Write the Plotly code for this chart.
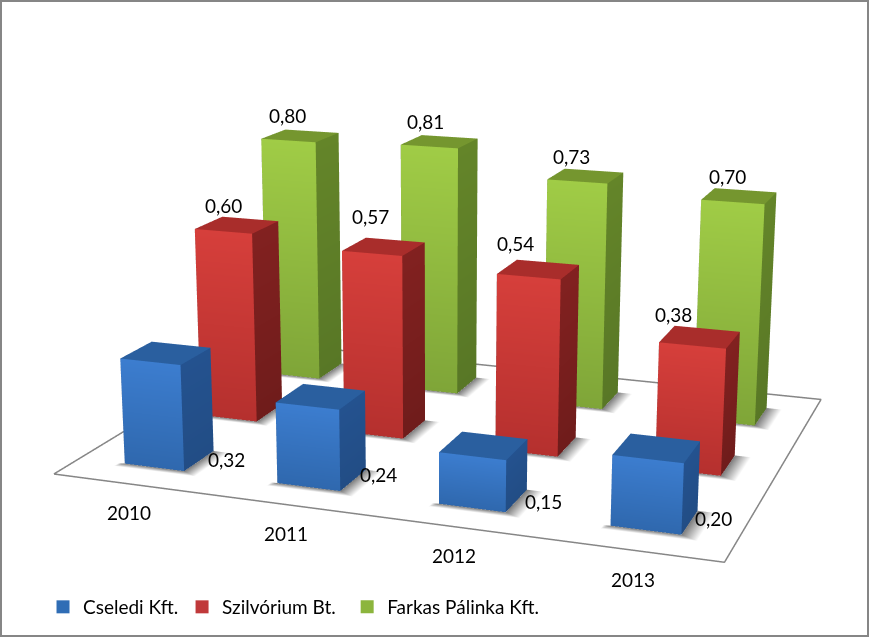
import plotly.graph_objects as go

categories = ["2010", "2011", "2012", "2013"]
series_names = ["Cseledi Kft.", "Szilvórium Bt.", "Farkas Pálinka Kft."]
cseledi = [0.32, 0.24, 0.15, 0.20]
szilvorium = [0.60, 0.57, 0.54, 0.38]
farkas = [0.80, 0.81, 0.73, 0.70]
all_values = [cseledi, szilvorium, farkas]

PAL = [
    dict(front_top="#3c7dcf", front_bot="#2f68ae", side_top="#24528f", side_bot="#224d85", top="#2a5f9f", key="#2f6db5"),
    dict(front_top="#d63f3b", front_bot="#b5302e", side_top="#822120", side_bot="#6f1c1b", top="#a92d2b", key="#c0393a"),
    dict(front_top="#a0cc46", front_bot="#7fa538", side_top="#648529", side_bot="#587726", top="#75962f", key="#8cb53d"),
]
BW = 0.198  # half width of bar in category units
BD = 0.194  # half depth
FOVY = 0.3191
# pixel nudges of the value labels (per series, per category)
LABEL_DX = [[42, 38, 38, 32], [-13, -13, -23, -26], [-13, -14, -14, -12]]
LABEL_DY = [[12, 17, 11, 16], [20, 30, 26, 23], [20, 20, 19, 20]]
CAT_DX = [0, -1, 0, 2]
CAT_DY = -29
LEGEND_X = [0.0495, 0.2095, 0.3995]


def box_mesh(values, row, pal):
    xs, ys, zs, I, J, K, cols = [], [], [], [], [], [], []

    def quad(pts, colors):
        n = len(xs)
        for p, c in zip(pts, colors):
            xs.append(p[0]); ys.append(p[1]); zs.append(p[2]); cols.append(c)
        I.extend([n, n]); J.extend([n + 1, n + 2]); K.extend([n + 2, n + 3])

    for i, v in enumerate(values):
        x0, x1 = i + 0.5 - BW, i + 0.5 + BW
        y0, y1 = row + 0.5 - BD, row + 0.5 + BD
        quad([(x0, y0, 0), (x1, y0, 0), (x1, y0, v), (x0, y0, v)],
             [pal["front_bot"], pal["front_bot"], pal["front_top"], pal["front_top"]])
        quad([(x1, y0, 0), (x1, y1, 0), (x1, y1, v), (x1, y0, v)],
             [pal["side_bot"], pal["side_bot"], pal["side_top"], pal["side_top"]])
        quad([(x0, y1, 0), (x0, y0, 0), (x0, y0, v), (x0, y1, v)],
             [pal["side_bot"], pal["side_bot"], pal["side_top"], pal["side_top"]])
        quad([(x0, y0, v), (x1, y0, v), (x1, y1, v), (x0, y1, v)], [pal["top"]] * 4)
    return xs, ys, zs, I, J, K, cols


def shadow_mesh(nx, ny):
    xs, ys, zs, I, J, K, cols = [], [], [], [], [], [], []
    dark, clear = "#7c7c7c", "#ffffff"
    sx, sy = 0.10, 0.06

    def quad(pts, colors):
        n = len(xs)
        for p, c in zip(pts, colors):
            xs.append(p[0]); ys.append(p[1]); zs.append(0); cols.append(c)
        I.extend([n, n]); J.extend([n + 1, n + 2]); K.extend([n + 2, n + 3])

    for r in range(ny):
        for i in range(nx):
            x0, x1 = i + 0.5 - BW, i + 0.5 + BW
            y0, y1 = r + 0.5 - BD, r + 0.5 + BD
            quad([(x1, y0, 0), (x1 + sx, y0, 0), (x1 + sx, y1, 0), (x1, y1, 0)], [dark, clear, clear, dark])
            quad([(x0, y0, 0), (x1, y0, 0), (x1, y0 - sy, 0), (x0, y0 - sy, 0)], [dark, dark, clear, clear])
            quad([(x1, y0, 0), (x1 + sx, y0, 0), (x1 + sx, y0 - sy, 0), (x1, y0 - sy, 0)], [dark, clear, clear, clear])
            quad([(x0, y0, 0), (x0 - sx * 0.4, y0, 0), (x0 - sx * 0.4, y0 - sy, 0), (x0, y0 - sy, 0)], [dark, clear, clear, clear])
    return xs, ys, zs, I, J, K, cols


fig = go.Figure()
NX, NY = len(categories), len(series_names)
FLAT = dict(ambient=1, diffuse=0, specular=0, fresnel=0)

sx_, sy_, sz_, si, sj, sk, sc = shadow_mesh(NX, NY)
fig.add_trace(go.Mesh3d(x=sx_, y=sy_, z=sz_, i=si, j=sj, k=sk, vertexcolor=sc, lighting=FLAT, hoverinfo="skip", showlegend=False))
fig.add_trace(go.Scatter3d(x=[0, NX, NX, 0, 0], y=[0, 0, NY, NY, 0], z=[0] * 5, mode="lines",
                           line=dict(color="#868686", width=3), hoverinfo="skip", showlegend=False))

for row, (vals, pal, name) in enumerate(zip(all_values, PAL, series_names)):
    xs, ys, zs, I, J, K, cols = box_mesh(vals, row, pal)
    fig.add_trace(go.Mesh3d(x=xs, y=ys, z=zs, i=I, j=J, k=K, vertexcolor=cols, flatshading=True,
                            lighting=FLAT, showlegend=False, name=name))
    fig.add_trace(go.Scatter3d(x=[None], y=[None], z=[None], mode="markers", name=name,
                               legend="legend" if row == 0 else f"legend{row + 1}",
                               marker=dict(symbol="square", size=13, color=pal["key"])))

annos = []
FONT = "Lato, Open Sans, sans-serif"
TXT = dict(family=FONT, size=19, color="#000000")
for row, vals in enumerate(all_values):
    for i, v in enumerate(vals):
        label = f"{v:.2f}".replace(".", ",")
        if row == 0:
            annos.append(dict(x=i + 0.5 + BW, y=0.5 - BD, z=0, text=label, showarrow=False, font=TXT,
                              xshift=LABEL_DX[row][i], yshift=LABEL_DY[row][i]))
        else:
            annos.append(dict(x=i + 0.5, y=row + 0.5, z=v, text=label, showarrow=False, font=TXT,
                              xshift=LABEL_DX[row][i], yshift=LABEL_DY[row][i]))
for i, c in enumerate(categories):
    annos.append(dict(x=i + 0.5, y=0, z=0, text=c, showarrow=False, font=TXT, xshift=CAT_DX[i], yshift=CAT_DY))

ax = dict(visible=False, showgrid=False, zeroline=False, showspikes=False)
leg = dict(orientation="h", y=0.0173, yanchor="bottom", xanchor="left", font=dict(family=FONT, size=19, color="#000"),
           bgcolor="rgba(0,0,0,0)", itemwidth=30)
fig.update_layout(
    width=869, height=637, autosize=False,
    margin=dict(l=0, r=0, t=0, b=0), paper_bgcolor="white",
    scene=dict(
        domain=dict(x=[0, 1], y=[0, 1]),
        xaxis=dict(ax, range=[0, NX]), yaxis=dict(ax, range=[0, NY]), zaxis=dict(ax, range=[0, 1]),
        aspectmode="manual", aspectratio=dict(x=1.6, y=1.211, z=0.8176),
        camera=dict(eye=dict(x=1.5575, y=-4.4384, z=1.155), center=dict(x=-0.0106, y=-0.1524, z=-0.0708), up=dict(x=0, y=0, z=1)),
        bgcolor="white", annotations=annos,
    ),
    legend=dict(leg, x=LEGEND_X[0]), legend2=dict(leg, x=LEGEND_X[1]), legend3=dict(leg, x=LEGEND_X[2]),
    shapes=[dict(type="rect", xref="paper", yref="paper", x0=0, y0=0, x1=1, y1=1, line=dict(color="#868686", width=4), fillcolor="rgba(0,0,0,0)")],
)
POST = """
document.body.style.margin='0';document.body.style.overflow='hidden';
var gd=document.getElementById('{plot_id}');var n=0;
var t=setInterval(function(){
  var sc=gd._fullLayout&&gd._fullLayout.scene&&gd._fullLayout.scene._scene;
  if(sc&&sc.glplot){sc.glplot.fovy=%s;sc.glplot.redraw();}
  if(++n>20)clearInterval(t);
},50);
""" % FOVY
fig.write_html("out.html", post_script=POST, config={"displayModeBar": False})
